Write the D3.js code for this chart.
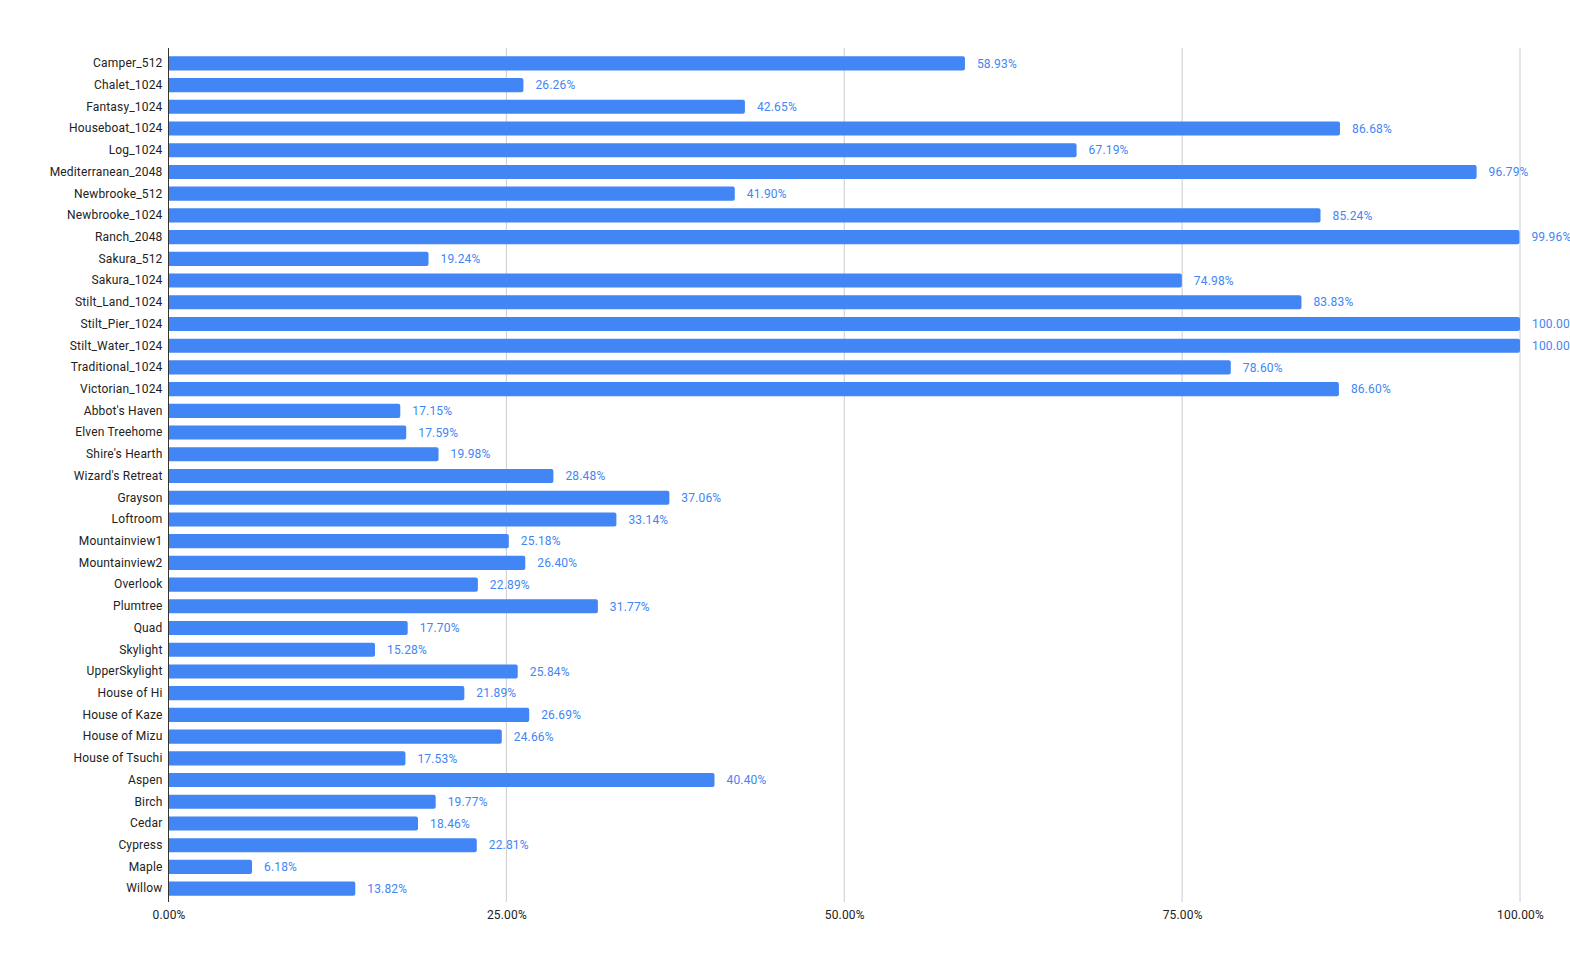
<!DOCTYPE html>
<html><head><meta charset="utf-8">
<script src="https://cdn.jsdelivr.net/npm/d3@7"></script>
<style>body{margin:0;background:#fff;}svg{display:block;font-family:Roboto,Arial,sans-serif;}text{letter-spacing:0.17px;}</style>
</head><body><svg id="c" width="1570" height="971"></svg>
<script>
const categories = ["Camper_512","Chalet_1024","Fantasy_1024","Houseboat_1024","Log_1024","Mediterranean_2048","Newbrooke_512","Newbrooke_1024","Ranch_2048","Sakura_512","Sakura_1024","Stilt_Land_1024","Stilt_Pier_1024","Stilt_Water_1024","Traditional_1024","Victorian_1024","Abbot's Haven","Elven Treehome","Shire's Hearth","Wizard's Retreat","Grayson","Loftroom","Mountainview1","Mountainview2","Overlook","Plumtree","Quad","Skylight","UpperSkylight","House of Hi","House of Kaze","House of Mizu","House of Tsuchi","Aspen","Birch","Cedar","Cypress","Maple","Willow"];
const values = [58.93,26.26,42.65,86.68,67.19,96.79,41.90,85.24,99.96,19.24,74.98,83.83,100.00,100.00,78.60,86.60,17.15,17.59,19.98,28.48,37.06,33.14,25.18,26.40,22.89,31.77,17.70,15.28,25.84,21.89,26.69,24.66,17.53,40.40,19.77,18.46,22.81,6.18,13.82];
const xTicks = [0,25,50,75,100];

const svg = d3.select("#c");
const x = d3.scaleLinear().domain([0,100]).range([168.5,1520]);
const y = d3.scaleBand().domain(categories).range([52.5,899.5]).paddingInner(0.35).paddingOuter(0.175);

// gridlines
svg.append("g").selectAll("line").data(xTicks.slice(1)).join("line")
  .attr("x1",d=>x(d)).attr("x2",d=>x(d)).attr("y1",48).attr("y2",902)
  .attr("stroke","#cccccc").attr("stroke-width",1);

// bars
const bw = y.bandwidth();
svg.append("g").selectAll("path").data(categories).join("path")
  .attr("fill","#4285f4")
  .attr("d",(c,i)=>{
    const x0=x(0), x1=x(values[i]), y0=y(c), r=2;
    return `M${x0},${y0}H${x1-r}Q${x1},${y0} ${x1},${y0+r}V${y0+bw-r}Q${x1},${y0+bw} ${x1-r},${y0+bw}H${x0}Z`;
  });

// value labels
svg.append("g").selectAll("text").data(categories).join("text")
  .attr("x",(c,i)=>x(values[i])+12).attr("y",c=>y(c)+bw/2)
  .attr("dy","0.35em").attr("fill","#4285f4").attr("font-size",12)
  .text((c,i)=>values[i].toFixed(2)+"%");

// y axis
const ya = svg.append("g").attr("transform","translate(168.5,0)")
  .call(d3.axisLeft(y).tickSize(0).tickPadding(6));
ya.select(".domain").remove();
ya.selectAll("text").attr("font-size",12).attr("fill","#222").attr("font-family","Roboto,Arial,sans-serif");
svg.append("line").attr("x1",168.5).attr("x2",168.5).attr("y1",48).attr("y2",902).attr("stroke","#333").attr("stroke-width",1);

// x axis
const xa = svg.append("g").attr("transform","translate(0,902)")
  .call(d3.axisBottom(x).tickValues(xTicks).tickSize(0).tickPadding(8).tickFormat(d=>d.toFixed(2)+"%"));
xa.select(".domain").remove();
xa.selectAll("text").attr("font-size",12).attr("fill","#222").attr("font-family","Roboto,Arial,sans-serif");
</script></body></html>
